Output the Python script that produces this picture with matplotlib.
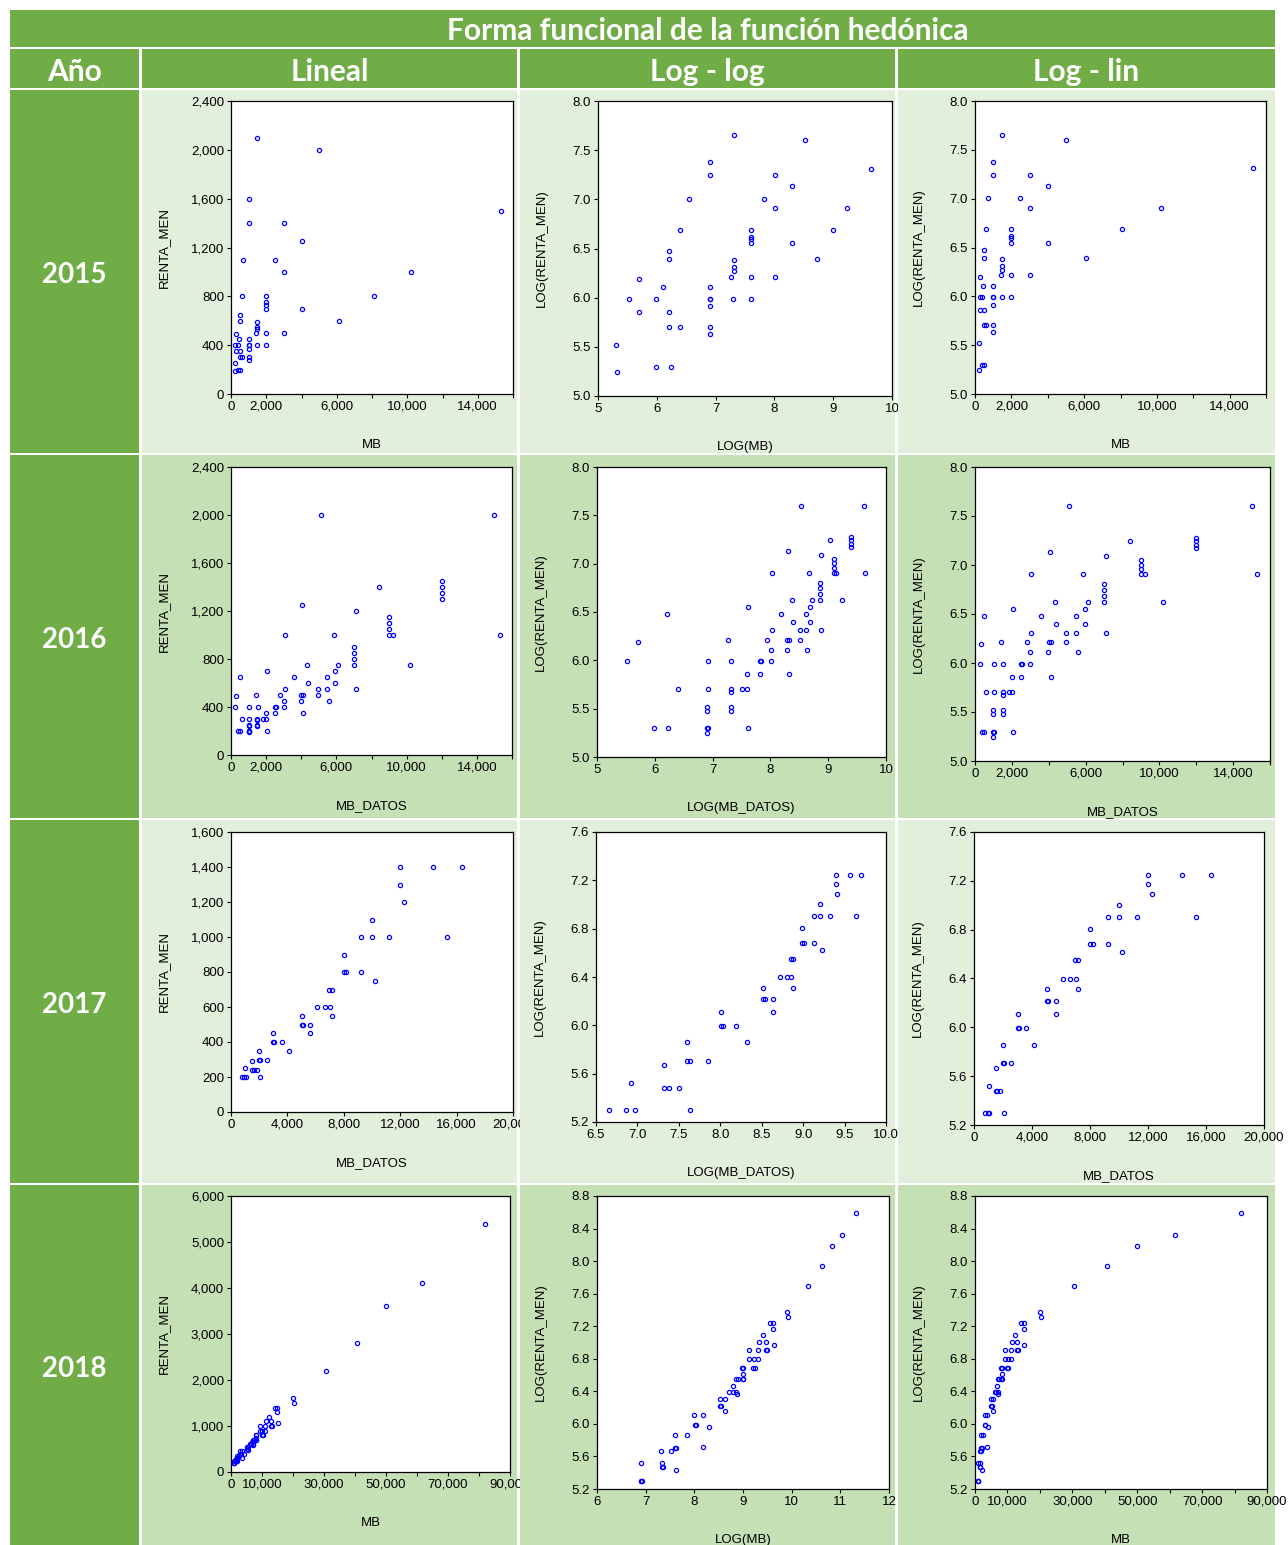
import matplotlib.pyplot as plt
import numpy as np

# ---- values (MB / MB_DATOS and RENTA_MEN) ----
mb_2015 = [200, 205, 250, 300, 300, 400, 400, 450, 500, 500, 500, 500, 512, 600, 600,
           700, 1000, 1000, 1000, 1000, 1000, 1000, 1000, 1000, 1500, 1430, 1500, 1500,
           1500, 1480, 2000, 2000, 2000, 2000, 2000, 2000, 2500, 3000, 3000, 3000, 4000,
           4000, 5000, 6100, 8100, 10200, 15300]
renta_2015 = [250, 190, 400, 490, 350, 400, 200, 450, 650, 600, 350, 300, 200, 800, 300,
              1100, 1600, 1400, 450, 400, 400, 370, 300, 280, 2100, 500, 590, 550,
              530, 400, 800, 750, 730, 700, 500, 400, 1100, 1400, 1000, 500, 1250,
              700, 2000, 600, 800, 1000, 1500]

mb_2016 = [250, 300, 400, 500, 510, 600, 1000, 1000, 1020, 1000, 1000, 1020, 1020, 1420,
           1500, 1500, 1500, 1500, 1520, 1830, 2000, 2000, 2040, 2040, 2500, 2550, 2500,
           2800, 3000, 3000, 3050, 3050, 3560, 3980, 4000, 4100, 4060, 4100, 4400, 4350,
           4960, 4960, 5100, 5480, 5480, 5600, 5840, 5940, 5940, 6120, 7000, 7000, 7000,
           7000, 7100, 7100, 8400, 9000, 9000, 9000, 9000, 9200, 10200, 12000, 12000,
           12000, 12000, 15000, 15300]
renta_2016 = [400, 490, 200, 650, 200, 300, 190, 200, 200, 240, 250, 300, 400, 500,
              300, 290, 250, 240, 400, 300, 300, 350, 700, 200, 400, 400, 350,
              500, 450, 400, 550, 1000, 650, 450, 500, 500, 1250, 350, 600, 750,
              550, 500, 2000, 550, 650, 450, 1000, 700, 600, 750, 900, 850, 800,
              750, 1200, 550, 1400, 1150, 1100, 1050, 1000, 1000, 750, 1450, 1400,
              1350, 1300, 2000, 1000]

mb_2017 = [780, 950, 1065, 1020, 1510, 1510, 1610, 1820, 1990, 1990, 2060, 2060, 2560,
           3000, 3000, 3080, 3600, 4120, 5000, 5000, 5110, 5630, 5630, 6130, 6650, 7000,
           6960, 7150, 7170, 8000, 7980, 8190, 9210, 9210, 9990, 9990, 10230, 11240,
           11980, 11980, 12260, 14320, 15340, 16360]
renta_2017 = [200, 200, 200, 250, 290, 240, 240, 240, 350, 300, 300, 200, 300,
              450, 400, 400, 400, 350, 550, 500, 500, 500, 450, 600, 600, 600,
              700, 700, 550, 900, 800, 800, 1000, 800, 1000, 1100, 750, 1000,
              1400, 1300, 1200, 1400, 1000, 1400]

mb_2018 = [1000, 1000, 1020, 1000, 1510, 1540, 1540, 1550, 1840, 2000, 2000, 2060, 2060,
           2560, 2980, 3000, 3100, 3570, 3570, 4070, 5000, 5000, 5150, 5640, 5640, 6130,
           6570, 6630, 7040, 7170, 6970, 7260, 8100, 8170, 8170, 7940, 8170, 9200, 10100,
           11050, 9200, 11050, 9900, 10300, 11250, 12950, 12950, 13350, 12200, 14150,
           14950, 14950, 15250, 19950, 20350, 30600, 40800, 50000, 61700, 82000]
renta_2018 = [248, 200, 200, 200, 290, 248, 238, 238, 290, 350, 300, 300, 230,
              350, 450, 400, 400, 450, 305, 388, 545, 500, 500, 545, 475, 600,
              600, 645, 600, 580, 700, 700, 700, 700, 745, 800, 800, 900, 900,
              900, 1000, 1000, 800, 800, 1100, 1100, 1000, 1000, 1200, 1400,
              1400, 1300, 1060, 1600, 1500, 2200, 2800, 3600, 4100, 5400]

years = ["2015", "2016", "2017", "2018"]
mb_by_year = [mb_2015, mb_2016, mb_2017, mb_2018]
renta_by_year = [renta_2015, renta_2016, renta_2017, renta_2018]
x_names = ["MB", "MB_DATOS", "MB_DATOS", "MB"]

title = "Forma funcional de la función hedónica"
col_titles = ["Año", "Lineal", "Log - log", "Log - lin"]

# tick positions and the ones that carry a label (EViews skips some)
lin_xticks = [[0, 2000, 4000, 6000, 8000, 10000, 12000, 14000, 16000],
              [0, 2000, 4000, 6000, 8000, 10000, 12000, 14000, 16000],
              [0, 4000, 8000, 12000, 16000, 20000],
              [0, 10000, 20000, 30000, 40000, 50000, 60000, 70000, 80000, 90000]]
lin_xshown = [[0, 2000, 6000, 10000, 14000],
              [0, 2000, 6000, 10000, 14000],
              [0, 4000, 8000, 12000, 16000, 20000],
              [0, 10000, 30000, 50000, 70000, 90000]]
lin_yticks = [[0, 400, 800, 1200, 1600, 2000, 2400],
              [0, 400, 800, 1200, 1600, 2000, 2400],
              [0, 200, 400, 600, 800, 1000, 1200, 1400, 1600],
              [0, 1000, 2000, 3000, 4000, 5000, 6000]]
log_xticks = [[5, 6, 7, 8, 9, 10],
              [5, 6, 7, 8, 9, 10],
              [6.5, 7.0, 7.5, 8.0, 8.5, 9.0, 9.5, 10.0],
              [6, 7, 8, 9, 10, 11, 12]]
log_xfmt = ["{:.0f}", "{:.0f}", "{:.1f}", "{:.0f}"]
log_yticks = [[5.0, 5.5, 6.0, 6.5, 7.0, 7.5, 8.0],
              [5.0, 5.5, 6.0, 6.5, 7.0, 7.5, 8.0],
              [5.2, 5.6, 6.0, 6.4, 6.8, 7.2, 7.6],
              [5.2, 5.6, 6.0, 6.4, 6.8, 7.2, 7.6, 8.0, 8.4, 8.8]]

# ---- layout (pixels) ----
W, H = 1288, 1545
dark = "#70AD47"
row_colors = ["#E2EFDA", "#C5E0B4", "#E2EFDA", "#C5E0B4"]
col_x = [(10, 139), (142, 517), (520, 895), (898, 1275)]
row_y = [(90, 453), (455, 818), (820, 1183), (1185, 1545)]
plot_rects = [
    [(231, 101, 513, 394), (598, 101, 892, 396), (975, 101, 1266, 394)],
    [(231, 467, 512, 755), (597, 467, 886, 757), (975, 467, 1270, 761)],
    [(231, 832, 513, 1112), (596, 832, 886, 1122), (974, 832, 1264, 1125)],
    [(231, 1196, 510, 1472), (597, 1196, 889, 1489), (975, 1196, 1267, 1489)],
]

fig = plt.figure(figsize=(W / 100, H / 100), dpi=100)
fig.patch.set_facecolor("white")


def px_axes(x0, y0, x1, y1):
    return fig.add_axes([x0 / W, 1 - y1 / H, (x1 - x0) / W, (y1 - y0) / H])


def cell(x0, y0, x1, y1, color):
    ax = px_axes(x0, y0, x1, y1)
    ax.set_facecolor(color)
    ax.set_xticks([])
    ax.set_yticks([])
    for s in ax.spines.values():
        s.set_visible(False)
    return ax


def fmt_ticks(ticks, fmt, shown=None):
    out = []
    for t in ticks:
        if shown is not None and t not in shown:
            out.append("")
        else:
            out.append(fmt.format(t))
    return out


def style(ax, xlabel, ylabel, ylab_off):
    for s in ax.spines.values():
        s.set_linewidth(0.9)
        s.set_color("black")
    ax.tick_params(direction="out", length=3, width=0.8, pad=2,
                   labelsize=9.5, colors="black")
    for lbl in ax.get_xticklabels() + ax.get_yticklabels():
        lbl.set_family("Liberation Sans")
    bb = ax.get_position()
    wpx, hpx = bb.width * W, bb.height * H
    ax.set_xlabel(xlabel, fontsize=9.5, family="Liberation Sans")
    ax.set_ylabel(ylabel, fontsize=9.5, family="Liberation Sans")
    ax.xaxis.set_label_coords(0.5, -45 / hpx)
    ax.yaxis.set_label_coords(-(ylab_off - 7) / wpx, 0.5)


# title and header rows
cell(10, 10, 1275, 47, dark)
fig.text(708 / W, 1 - 31 / H, title, ha="center", va="center", color="white",
         fontsize=21.5, fontweight="bold", family="Lato")
for (x0, x1), name in zip(col_x, col_titles):
    hc = cell(x0, 49, x1, 88, dark)
    hc.text(0.5, 0.42, name, transform=hc.transAxes, ha="center", va="center",
            color="white", fontsize=21.5, fontweight="bold", family="Lato")

mk = dict(ls="none", marker="o", ms=3, mfc="none", mec="#0000FF", mew=0.9)

for r, year in enumerate(years):
    y0, y1 = row_y[r]
    yc = cell(col_x[0][0], y0, col_x[0][1], y1, dark)
    yc.text(0.5, 0.49, year, transform=yc.transAxes, ha="center", va="center",
            color="white", fontsize=20, fontweight="bold", family="Lato")

    mb = np.array(mb_by_year[r], dtype=float)
    renta = np.array(renta_by_year[r], dtype=float)
    xs = [mb, np.log(mb), mb]
    ys = [renta, np.log(renta), np.log(renta)]

    for c in range(3):
        cx0, cx1 = col_x[c + 1]
        cell(cx0, y0, cx1, y1, row_colors[r])
        ax = px_axes(*plot_rects[r][c])
        ax.set_facecolor("white")
        ax.plot(xs[c], ys[c], **mk)
        if c == 1:
            xt = log_xticks[r]
            ax.set_xticks(xt, fmt_ticks(xt, log_xfmt[r]))
        else:
            xt = lin_xticks[r]
            ax.set_xticks(xt, fmt_ticks(xt, "{:,.0f}", lin_xshown[r]))
        ax.set_xlim(xt[0], xt[-1])
        if c == 0:
            yt = lin_yticks[r]
            ax.set_yticks(yt, fmt_ticks(yt, "{:,.0f}"))
        else:
            yt = log_yticks[r]
            ax.set_yticks(yt, fmt_ticks(yt, "{:.1f}"))
        ax.set_ylim(yt[0], yt[-1])
        xname = x_names[r] if c != 1 else "LOG(" + x_names[r] + ")"
        yname = "RENTA_MEN" if c == 0 else "LOG(RENTA_MEN)"
        style(ax, xname, yname, 68 if c == 0 else 57)

fig.savefig("out.png", dpi=100, facecolor="white")
